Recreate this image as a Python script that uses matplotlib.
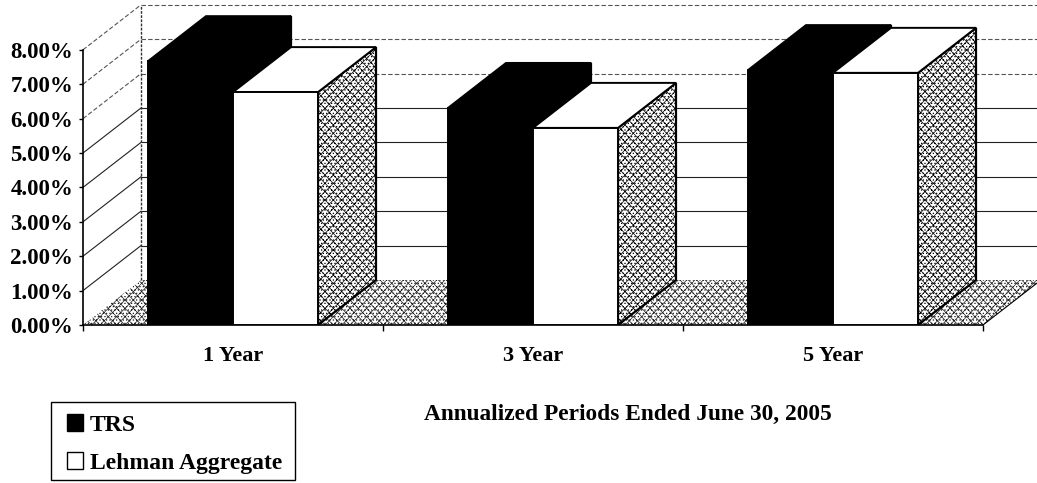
import matplotlib
matplotlib.use("Agg")
import matplotlib.pyplot as plt
import numpy as np

categories = ["1 Year", "3 Year", "5 Year"]
trs = [7.67, 6.31, 7.41]
lehman = [6.77, 5.73, 7.33]
y_ticks = [0, 1, 2, 3, 4, 5, 6, 7, 8]
y_labels = ["0.00%", "1.00%", "2.00%", "3.00%", "4.00%", "5.00%", "6.00%", "7.00%", "8.00%"]
x_title = "Annualized Periods Ended June 30, 2005"

W, H = 1037, 483
plt.rcParams['font.family'] = ['Liberation Serif', 'DejaVu Serif']
plt.rcParams['font.weight'] = 'bold'
plt.rcParams['axes.labelweight'] = 'bold'
plt.rcParams['hatch.linewidth'] = 0.5

fig = plt.figure(figsize=(W / 100, H / 100), dpi=100, facecolor='white')
ax = fig.add_axes([83 / W, 1 - 325 / H, (W - 83) / W, 325 / H])
ax.set_xlim(-0.5, -0.5 + (W - 83) / 300)
ax.set_ylim(0, 325 / 34.4)
ax.patch.set_visible(False)

DX = 58 / 300
DY = 45 / 34.4
BW = 85 / 300
TEX = '.....xxxx'

# floor
ax.fill([-0.5, 2.5, 2.5 + DX, -0.5 + DX], [0, 0, DY, DY], facecolor='white', edgecolor='#222222',
        hatch=TEX, linewidth=0, zorder=1, clip_on=True)
ax.plot([2.5, 2.5 + DX], [0, DY], color='black', lw=0.8, zorder=1.5)

# walls
for v in y_ticks[1:]:
    faint = v >= 6
    style = dict(color='#555555' if faint else '#222222', lw=0.8,
                 ls=(0, (4, 2)) if faint else '-', zorder=1)
    ax.plot([-0.5 + DX, 2.5 + DX + 1], [v + DY, v + DY], **style)
    ax.plot([-0.5, -0.5 + DX], [v, v + DY], **style)
ax.plot([-0.5 + DX, -0.5 + DX], [DY, 8 + DY], color='#333333', lw=1.0, ls=(0, (2, 1)), zorder=1)


def box(x0, value, face, side_hatch, order):
    ax.bar(x0, value, width=BW, align='edge', color=face, edgecolor='black', linewidth=1.4, zorder=order + 0.2)
    x1 = x0 + BW
    ax.fill([x1, x1 + DX, x1 + DX, x1], [0, DY, value + DY, value], facecolor=face, edgecolor='black',
            hatch=side_hatch, linewidth=1.6, zorder=order)
    ax.fill([x0, x1, x1 + DX, x0 + DX], [value, value, value + DY, value + DY], facecolor=face,
            edgecolor='black', linewidth=1.4, zorder=order + 0.1)


for i in range(len(categories)):
    box(i - BW, trs[i], 'black', None, 2 + i)
    box(i, lehman[i], 'white', TEX, 2.5 + i)

# axes
for side in ['top', 'right']:
    ax.spines[side].set_visible(False)
ax.spines['left'].set_bounds(0, 8)
ax.spines['left'].set_linewidth(1.2)
ax.spines['bottom'].set_bounds(-0.5, 2.5)
ax.spines['bottom'].set_linewidth(1.2)
ax.set_yticks(y_ticks, y_labels, fontsize=16.5)
ax.tick_params(axis='y', length=3, width=1, pad=4)
ax.set_xticks([-0.5, 0.5, 1.5, 2.5], [""] * 4)
ax.tick_params(axis='x', which='major', length=4, width=1)
ax.set_xticks(range(3), categories, minor=True, fontsize=16)
ax.tick_params(axis='x', which='minor', length=0, pad=15)
ax.set_xlabel(x_title, fontsize=16.8)
ax.xaxis.set_label_coords((627.5 - 83) / (W - 83), -(404 - 325) / 325, transform=ax.transAxes)

handles = [plt.Rectangle((0, 0), 1, 1, facecolor='black', edgecolor='black'),
           plt.Rectangle((0, 0), 1, 1, facecolor='white', edgecolor='black')]
fig.legend(handles, ["TRS", "Lehman Aggregate"], loc='lower left',
           bbox_to_anchor=(67 / W, 1 - 474 / H), fontsize=17, frameon=False,
           borderaxespad=0, borderpad=0, handlelength=0.68, handleheight=0.7,
           handletextpad=0.3, labelspacing=0.7)
fig.add_artist(plt.Rectangle((51 / W, 1 - 480 / H), 244 / W, 78 / H, transform=fig.transFigure,
                             facecolor='none', edgecolor='black', linewidth=1))

fig.savefig("out.png", dpi=100, facecolor='white')
